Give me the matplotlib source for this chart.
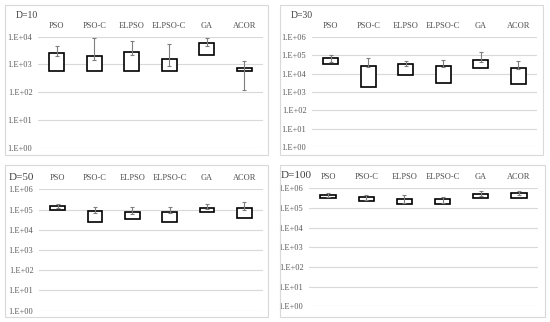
import matplotlib
matplotlib.use('Agg')
import matplotlib.pyplot as plt
from matplotlib.patches import Rectangle
import numpy as np

plt.rcParams['font.family'] = ['Liberation Serif', 'DejaVu Serif']

algos = ['PSO', 'PSO-C', 'ELPSO', 'ELPSO-C', 'GA', 'ACOR']

# D=10
d10_box_low = [580, 580, 580, 580, 2200, 580]
d10_box_high = [2650, 2000, 2720, 1520, 5750, 720]
d10_err_low = [2000, 1400, 2200, 900, 4740, 120]
d10_err_high = [4600, 8900, 6800, 5450, 9200, 1330]

# D=30
d30_box_low = [31600, 1870, 8300, 3100, 21000, 2600]
d30_box_high = [66800, 26800, 31600, 24500, 54000, 20000]
d30_err_low = [44000, 23000, 25700, 21800, 44000, 17000]
d30_err_high = [105000, 67000, 48000, 52000, 154000, 50000]

# D=50
d50_box_low = [95000, 23000, 35500, 24300, 76000, 38000]
d50_box_high = [150000, 82000, 73000, 78700, 124000, 115000]
d50_err_low = [115000, 70000, 60000, 70000, 102000, 95000]
d50_err_high = [188000, 129000, 129000, 134000, 181000, 245000]

# D=100
d100_box_low = [335000, 227000, 166000, 160000, 335000, 335000]
d100_box_high = [458000, 348000, 298000, 275000, 515000, 580000]
d100_err_low = [377000, 256000, 187000, 187000, 424000, 458000]
d100_err_high = [557000, 458000, 458000, 377000, 704000, 731000]

W, H = 550, 322
fig = plt.figure(figsize=(W / 100, H / 100), dpi=100)

def px_axes(x0, x1, ytop, ybot):
    return fig.add_axes([x0 / W, 1 - ybot / H, (x1 - x0) / W, (ybot - ytop) / H])

def frame(x0, x1, ytop, ybot):
    fig.patches.append(Rectangle((x0 / W, 1 - ybot / H), (x1 - x0) / W, (ybot - ytop) / H,
                                 transform=fig.transFigure, fill=False,
                                 edgecolor='#d9d9d9', lw=0.8))

panels = [
    ('D=10', d10_box_low, d10_box_high, d10_err_low, d10_err_high, 4,
     (38, 263, 36.7, 147.7), (5, 268, 5, 155), (16, 15), 7),
    ('D=30', d30_box_low, d30_box_high, d30_err_low, d30_err_high, 6,
     (312, 537, 36.7, 147.3), (280, 543, 5, 155), (291, 15), 7),
    ('D=50', d50_box_low, d50_box_high, d50_err_low, d50_err_high, 6,
     (39, 263, 189.3, 310.7), (5, 268, 165, 317), (9, 177), 8),
    ('D=100', d100_box_low, d100_box_high, d100_err_low, d100_err_high, 6,
     (309, 538, 188.3, 306.3), (280, 545, 165, 317), (281, 175), 8),
]

x = np.arange(len(algos))
for title, blo, bhi, elo, ehi, top, apos, fpos, tpos, tsize in panels:
    frame(*fpos)
    ax = px_axes(*apos)
    ax.set_yscale('log')
    ax.set_ylim(1, 10 ** top)
    ax.set_xlim(-0.5, len(algos) - 0.5)
    ticks = [10 ** k for k in range(top + 1)]
    ax.set_yticks(ticks)
    ax.set_yticklabels(['1.E+%02d' % k for k in range(top + 1)])
    ax.yaxis.set_minor_locator(matplotlib.ticker.NullLocator())
    for t in ticks:
        ax.axhline(t, color='#d9d9d9', lw=0.8, zorder=0)
    blo = np.array(blo); bhi = np.array(bhi)
    ax.bar(x, bhi - blo, bottom=blo, width=0.4, facecolor='white',
           edgecolor='black', lw=1.2, zorder=2)
    elo = np.array(elo); ehi = np.array(ehi)
    mid = np.sqrt(elo * ehi)
    ax.errorbar(x, mid, yerr=[mid - elo, ehi - mid], fmt='none', ecolor='#7f7f7f',
                elinewidth=0.8, capsize=1.5, capthick=0.8, zorder=3)
    ax.set_xticks(x)
    ax.set_xticklabels(algos)
    ax.tick_params(axis='x', top=False, bottom=False, labeltop=True, labelbottom=False,
                   length=0, pad=5, labelsize=6, labelcolor='#505050')
    ax.tick_params(axis='y', length=0, pad=4, labelsize=6, labelcolor='#595959')
    for s in ax.spines.values():
        s.set_visible(False)
    fig.text(tpos[0] / W, 1 - tpos[1] / H, title, fontsize=tsize, color='#404040',
             va='center', ha='left')

fig.savefig('out.png', dpi=100)
